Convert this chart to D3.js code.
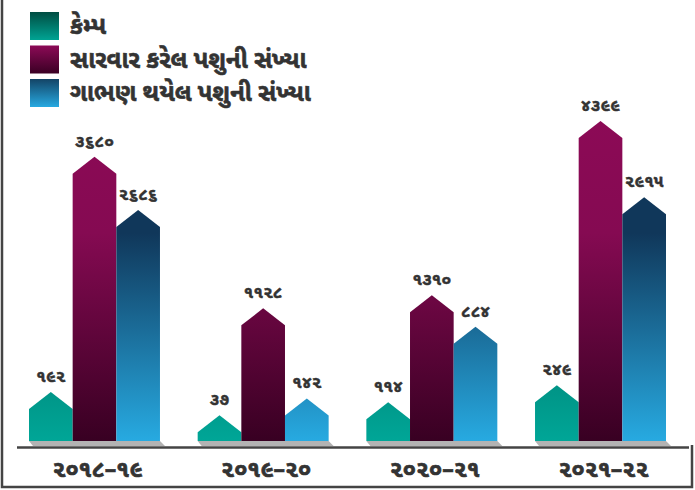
<!DOCTYPE html>
<html>
<head>
<meta charset="utf-8">
<script src="https://cdn.jsdelivr.net/npm/d3@7"></script>
<style>
  body { margin: 0; background: #fff; }
  svg { display: block; font-family: "Noto Sans Gujarati", "Lohit Gujarati", "Shruti", "Noto Sans", sans-serif; }
</style>
</head>
<body>
<div id="chart"></div>
<script>
// data
var years = ["૨૦૧૮–૧૯", "૨૦૧૯–૨૦", "૨૦૨૦–૨૧", "૨૦૨૧–૨૨"];
var seriesNames = ["કેમ્પ", "સારવાર કરેલ પશુની સંખ્યા", "ગાભણ થયેલ પશુની સંખ્યા"];
var camps = [192, 37, 114, 249];
var treated = [3680, 1128, 1310, 4399];
var pregnant = [2686, 142, 884, 2915];

var width = 695, height = 490;
var baseY = 441, capH = 17;
var guDigits = "૦૧૨૩૪૫૬૭૮૯";
var toGu = n => String(n).replace(/[0-9]/g, c => guDigits[+c]);

var keys = ["camps", "treated", "pregnant"];
var data = years.map((y, i) => ({year: y, camps: camps[i], treated: treated[i], pregnant: pregnant[i]}));

var svg = d3.select("#chart").append("svg")
    .attr("width", width)
    .attr("height", height);

var defs = svg.append("defs");
// bar gradients run across the whole plot height
var barGrads = [
  [["0", "#003d35"], ["1", "#00a697"]],
  [["0", "#8c0a56"], ["0.35", "#850a52"], ["1", "#380022"]],
  [["0", "#10375a"], ["0.35", "#10375a"], ["1", "#27aae1"]]
];
barGrads.forEach((stops, i) => {
  var g = defs.append("linearGradient")
      .attr("id", "bar" + i)
      .attr("gradientUnits", "userSpaceOnUse")
      .attr("x1", 0).attr("x2", 0).attr("y1", 121).attr("y2", baseY);
  stops.forEach(s => g.append("stop").attr("offset", s[0]).attr("stop-color", s[1]));
});
var legGrads = [["#004d42", "#00a393"], ["#8c0a56", "#3a0024"], ["#134466", "#27a9e1"]];
legGrads.forEach((c, i) => {
  var g = defs.append("linearGradient")
      .attr("id", "leg" + i)
      .attr("x1", 0).attr("x2", 0).attr("y1", 0).attr("y2", 1);
  g.append("stop").attr("offset", 0).attr("stop-color", c[0]);
  g.append("stop").attr("offset", 1).attr("stop-color", c[1]);
});

var x = d3.scaleBand()
    .domain(years)
    .range([29, 666])
    .paddingInner(0.2235);

var xSub = d3.scaleBand()
    .domain(keys)
    .range([0, x.bandwidth()]);

// the source graphic is not drawn to linear scale; a power scale tracks it best
var y = d3.scalePow()
    .exponent(0.7)
    .domain([0, d3.max(treated)])
    .range([baseY - 15, 121]);

// frame
svg.append("path")
    .attr("d", "M2,0V487H692V445")
    .attr("fill", "none")
    .attr("stroke", "#444")
    .attr("stroke-width", 2.5);

// shadows under groups
svg.selectAll(".shadow")
  .data(years)
  .join("path")
    .attr("class", "shadow")
    .attr("fill", "#b3b3b3")
    .attr("d", d => {
      var x0 = x(d), x1 = x(d) + x.bandwidth();
      return `M${x0},${baseY}H${x1}L${x1 + 5},${baseY + 5}H${x0 + 4}Z`;
    });

// axis line
svg.append("line")
    .attr("x1", 17).attr("x2", 689)
    .attr("y1", 447.5).attr("y2", 447.5)
    .attr("stroke", "#444")
    .attr("stroke-width", 2.5);

var groups = svg.selectAll(".group")
  .data(data)
  .join("g")
    .attr("class", "group")
    .attr("transform", d => `translate(${x(d.year)},0)`);

var bars = groups.selectAll(".bar")
  .data(d => keys.map((k, i) => ({key: k, i: i, value: d[k]})))
  .join("g")
    .attr("class", "bar");

bars.append("path")
    .attr("fill", d => `url(#bar${d.i})`)
    .attr("d", d => {
      var x0 = xSub(d.key), w = xSub.bandwidth(), top = y(d.value);
      return `M${x0},${baseY}V${top + capH}L${x0 + w / 2},${top}L${x0 + w},${top + capH}V${baseY}Z`;
    });

bars.append("text")
    .attr("x", d => xSub(d.key) + xSub.bandwidth() / 2)
    .attr("y", d => y(d.value) - 10)
    .attr("text-anchor", "middle")
    .attr("font-size", 17)
    .attr("font-weight", "bold")
    .attr("fill", "#333")
    .attr("stroke", "#333")
    .attr("stroke-width", 0.5)
    .text(d => toGu(d.value));

// year labels
svg.selectAll(".year")
  .data(years)
  .join("text")
    .attr("class", "year")
    .attr("x", d => x(d) + x.bandwidth() / 2 + 3)
    .attr("y", 477)
    .attr("text-anchor", "middle")
    .attr("font-size", 23)
    .attr("font-weight", "bold")
    .attr("fill", "#333")
    .attr("stroke", "#333")
    .attr("stroke-width", 0.7)
    .text(d => d);

// legend
var legend = svg.selectAll(".legend")
  .data(seriesNames)
  .join("g")
    .attr("class", "legend")
    .attr("transform", (d, i) => `translate(30,${12 + i * 33.5})`);

legend.append("rect")
    .attr("width", 29)
    .attr("height", 28)
    .attr("fill", (d, i) => `url(#leg${i})`);

legend.append("text")
    .attr("x", 40)
    .attr("y", 22)
    .attr("font-size", 24)
    .attr("font-weight", "bold")
    .attr("fill", "#333")
    .attr("stroke", "#333")
    .attr("stroke-width", 0.6)
    .text(d => d);
</script>
</body>
</html>
